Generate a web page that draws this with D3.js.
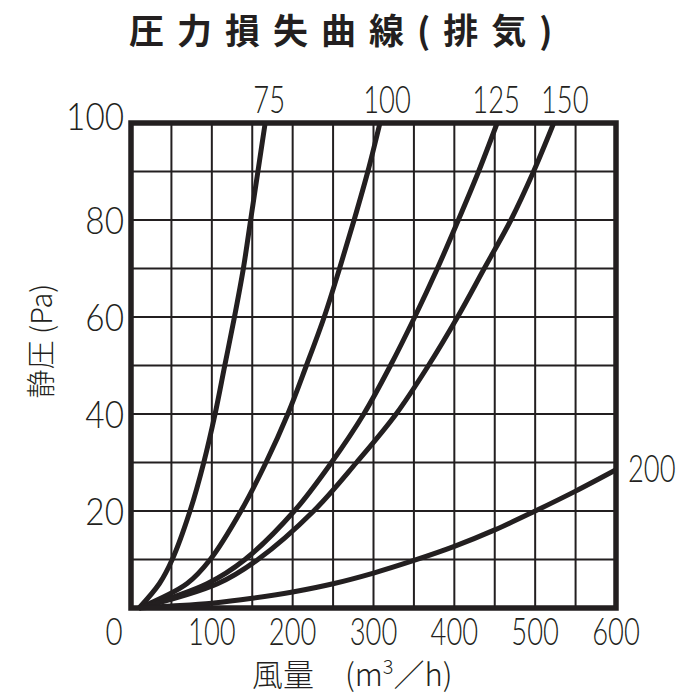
<!DOCTYPE html>
<html>
<head>
<meta charset="utf-8">
<script src="https://cdn.jsdelivr.net/npm/d3@7"></script>
<style>
  html, body { margin: 0; padding: 0; background: #fff; }
  svg { display: block; }
</style>
</head>
<body>
<svg id="chart" width="700" height="700"></svg>
<script>
// ---------- data ----------
const chartTitle = "圧力損失曲線(排気)";
const yTitle = "静圧 (Pa)";
const seriesNames = ["75", "100", "125", "150", "200"];
// [風量 m3/h, 静圧 Pa]
const duct75  = [[10,0],[35,5],[51,10],[73,20],[90,30],[104,40],[116,50],[128,60],[139,70],[148,80],[157,90],[166,100]];
const duct100 = [[10,0],[69,5],[98,10],[136,20],[167,30],[194,40],[217,50],[239,60],[258,70],[276,80],[293,90],[308,100]];
const duct125 = [[10,0],[94,5],[141,10],[202,20],[248,30],[288,40],[321,50],[351,60],[379,70],[405,80],[430,90],[453,100]];
const duct150 = [[10,0],[107,5],[157,10],[226,20],[279,30],[328,40],[368,50],[404,60],[437,70],[470,80],[498,90],[523,100]];
const duct200 = [[10,0],[50,0.4],[100,1.0],[150,2.0],[200,3.3],[250,5.0],[300,7.2],[350,9.8],[400,12.7],[450,16.1],[500,20],[550,24.1],[600,28.5]];
const flowTickLabels = [100, 200, 300, 400, 500, 600];
const pressureTickLabels = [20, 40, 60, 80, 100];
const flowGrid = [50,100,150,200,250,300,350,400,450,500,550];
const pressureGrid = [10,20,30,40,50,60,70,80,90];

// ---------- drawing ----------
const ink = "#231f20";
const svg = d3.select("#chart");
svg.append("rect").attr("width", 700).attr("height", 700).attr("fill", "#fff");

const x = d3.scaleLinear().domain([0, 600]).range([131, 616]);
const y = d3.scaleLinear().domain([0, 100]).range([608, 123]);

const numFont = "Lato, 'Open Sans', Roboto, sans-serif";
const cjkFont = "'Noto Sans CJK JP', 'Noto Sans CJK SC', sans-serif";

function label(g, px, py, txt, opts) {
  return g.append("text")
    .attr("transform", `translate(${px},${py}) scale(${opts.sx || 1},1)`)
    .attr("text-anchor", opts.anchor || "middle")
    .attr("font-family", opts.family || numFont)
    .attr("font-weight", opts.weight || 300)
    .attr("font-size", opts.size)
    .attr("fill", ink)
    .text(txt);
}

// grid
const grid = svg.append("g").attr("stroke", ink).attr("stroke-width", 2);
grid.selectAll("line.v").data(flowGrid).join("line")
  .attr("x1", d => x(d)).attr("x2", d => x(d))
  .attr("y1", y(0)).attr("y2", y(100));
grid.selectAll("line.h").data(pressureGrid).join("line")
  .attr("y1", d => y(d)).attr("y2", d => y(d))
  .attr("x1", x(0)).attr("x2", x(600));

// curves
const series = [duct75, duct100, duct125, duct150, duct200];
const line = d3.line().x(d => x(d[0])).y(d => y(d[1])).curve(d3.curveCatmullRom.alpha(0.5));
svg.append("g").selectAll("path").data(series).join("path")
  .attr("d", line)
  .attr("fill", "none")
  .attr("stroke", ink)
  .attr("stroke-width", 5)
  .attr("stroke-linejoin", "round");

// frame
svg.append("rect")
  .attr("x", x(0)).attr("y", y(100))
  .attr("width", x(600) - x(0)).attr("height", y(0) - y(100))
  .attr("fill", "none").attr("stroke", ink).attr("stroke-width", 5.5);

// axis labels
const tg = svg.append("g");
flowTickLabels.forEach(v => label(tg, x(v), 645, v, {size: 37, sx: 0.74}));
label(tg, 114, 645, "0", {size: 37, sx: 0.8});
pressureTickLabels.forEach(v => {
  const py = v === 100 ? y(v) + 7 : y(v) + 14;
  label(tg, 124, py, v, {size: 37, sx: 0.9, anchor: "end"});
});

// series labels
const seriesLabelDx = [4, 7, -1, 11];
seriesNames.forEach((name, i) => {
  const s = series[i];
  const last = s[s.length - 1];
  if (i < 4) {
    label(tg, x(last[0]) + seriesLabelDx[i], 113, name, {size: 37, sx: 0.74});
  } else {
    label(tg, x(last[0]) + 12, y(last[1]) + 12, name, {size: 37, sx: 0.74, anchor: "start"});
  }
});

// title
svg.append("text")
  .attr("x", 129).attr("y", 44)
  .attr("font-family", cjkFont)
  .attr("font-weight", 700)
  .attr("font-size", 35)
  .attr("letter-spacing", 13)
  .attr("fill", ink)
  .text(chartTitle);

// y title
svg.append("text")
  .attr("transform", `translate(52,341) rotate(-90)`)
  .attr("text-anchor", "middle")
  .attr("font-family", cjkFont)
  .attr("font-weight", 300)
  .attr("font-size", 29)
  .attr("fill", ink)
  .text(yTitle);

// x title
const xt = svg.append("text")
  .attr("x", 252).attr("y", 686)
  .attr("font-family", cjkFont)
  .attr("font-weight", 300)
  .attr("font-size", 31)
  .attr("fill", ink);
xt.append("tspan").text("風量　(m");
xt.append("tspan").attr("dy", -12).attr("font-size", 20).text("3");
xt.append("tspan").attr("dy", 12).text("／h)");
</script>
</body>
</html>
